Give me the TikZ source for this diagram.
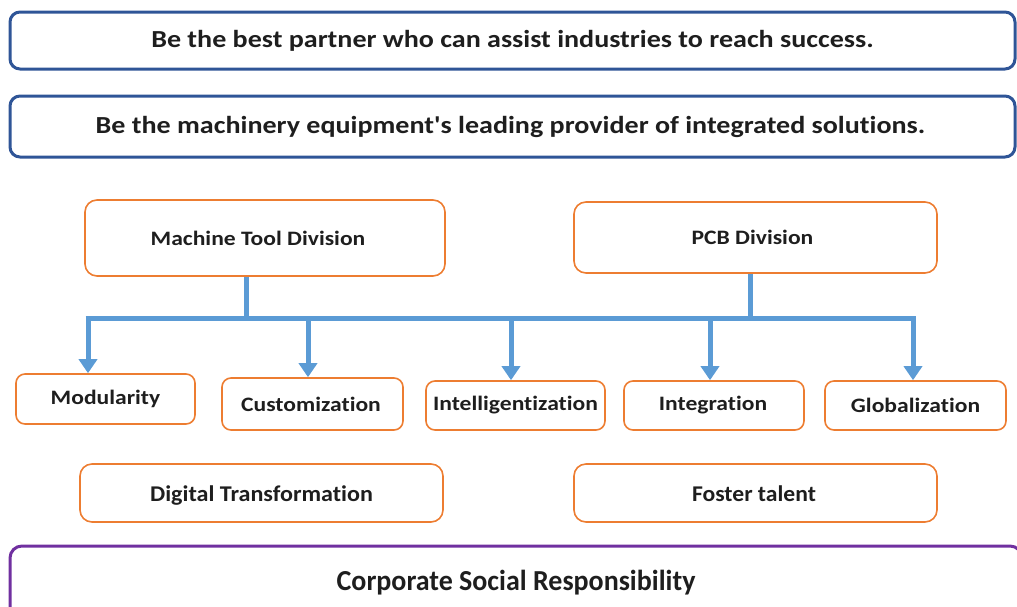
\documentclass[tikz,border=0pt]{standalone}
\usepackage{graphicx}
\usepackage{fontspec}
\setmainfont{Carlito}[Ligatures={NoCommon}]
\newfontfamily\labelfont{Carlito}[Ligatures={NoCommon}]
\usetikzlibrary{arrows.meta}
\definecolor{visionblue}{HTML}{2F5597}
\definecolor{unitorange}{HTML}{ED7D31}
\definecolor{csrpurple}{HTML}{7030A0}
\definecolor{linkblue}{HTML}{5B9BD5}
\definecolor{inkgray}{HTML}{1E1E1E}
% horizontally widened label text
\newcommand{\wlabel}[2]{\scalebox{#1}[1]{#2}}
\begin{document}
\begin{tikzpicture}[x=1pt,y=-1pt,
  every node/.style={text=inkgray, inner sep=0pt, align=center},
  banner/.style={draw=visionblue, line width=3pt, rounded corners=10pt,
    font=\labelfont\bfseries\fontsize{24.5}{28}\selectfont},
  division/.style={draw=unitorange, line width=1.6pt, rounded corners=12pt,
    font=\labelfont\bfseries\fontsize{20.5}{24}\selectfont},
  pillar/.style={draw=unitorange, line width=1.6pt, rounded corners=9pt,
    font=\labelfont\bfseries\fontsize{20.5}{24}\selectfont},
  goalbox/.style={draw=unitorange, line width=1.6pt, rounded corners=12pt,
    text height=16pt, text depth=0pt,
    font=\labelfont\bfseries\fontsize{22.5}{26}\selectfont},
  csrbox/.style={draw=csrpurple, line width=3pt, rounded corners=12pt,
    font=\labelfont\bfseries\fontsize{29}{33}\selectfont},
  link/.style={draw=linkblue, line width=5pt},
  linkarrow/.style={link, -{Triangle[width=18pt,length=14pt]}}
]
\useasboundingbox (0,0) rectangle (1017,606);

% vision and mission banners
\node[banner, minimum width=1005pt, minimum height=57pt] (vision) at (512.5,40.5)
  {\wlabel{1.145}{Be the best partner who can assist industries to reach success.}};
\node[banner, minimum width=1005pt, minimum height=61pt] (mission) at (512.5,126.5)
  {\hspace*{-4pt}\wlabel{1.145}{Be the machinery equipment\symbol{39}s leading provider of integrated solutions.}};

% business divisions
\node[division, minimum width=360pt, minimum height=76pt] (mtd) at (265,238)
  {\hspace*{-14pt}\wlabel{1.15}{Machine Tool Division}};
\node[division, minimum width=363pt, minimum height=71pt] (pcb) at (755.5,237.5)
  {\hspace*{-6pt}\wlabel{1.15}{PCB Division}};

% strategic directions
\node[pillar, minimum width=179pt, minimum height=50pt] (mod) at (105.5,399) {\wlabel{1.15}{Modularity}};
\node[pillar, minimum width=181pt, minimum height=52pt] (cust) at (312.5,404) {\hspace*{-3pt}\wlabel{1.15}{Customization}};
\node[pillar, minimum width=179pt, minimum height=49pt] (intel) at (515.5,405.5) {\wlabel{1.15}{Intelligentization}};
\node[pillar, minimum width=180pt, minimum height=49pt] (integ) at (714,405.5) {\hspace*{-2pt}\wlabel{1.15}{Integration}};
\node[pillar, minimum width=181pt, minimum height=49pt] (glob) at (915.5,405.5) {\wlabel{1.15}{Globalization}};

% supporting goals
\node[goalbox, minimum width=363pt, minimum height=58pt] (digital) at (261.5,493)
  {\wlabel{1.07}{Digital Transformation}};
\node[goalbox, minimum width=363pt, minimum height=58pt] (talent) at (755.5,493)
  {\hspace*{-3pt}\wlabel{1.05}{Foster talent}};

% corporate social responsibility base
\node[csrbox, minimum width=1012pt, minimum height=74pt] (csr) at (516,583)
  {\raisebox{4pt}{\wlabel{0.965}{Corporate Social Responsibility}}};

% connector bus
\coordinate (mtdout) at ([xshift=-19pt]mtd.south);
\coordinate (pcbout) at ([xshift=-5.5pt]pcb.south);
\coordinate (aMod) at ([xshift=-17.5pt]mod.north);
\coordinate (aCust) at ([xshift=-4.5pt]cust.north);
\coordinate (aIntel) at ([xshift=-4.5pt]intel.north);
\coordinate (aInteg) at ([xshift=-4pt]integ.north);
\coordinate (aGlob) at ([xshift=-2.5pt]glob.north);
\coordinate (bus) at (0,318);

\draw[link] (mtdout) -- (mtdout |- bus);
\draw[link] (pcbout) -- (pcbout |- bus);
\draw[link] ([xshift=-2.5pt]aMod |- bus) -- ([xshift=2.5pt]aGlob |- bus);
\draw[linkarrow] (aMod |- bus) -- (aMod);
\draw[linkarrow] (aCust |- bus) -- (aCust);
\draw[linkarrow] (aIntel |- bus) -- (aIntel);
\draw[linkarrow] (aInteg |- bus) -- (aInteg);
\draw[linkarrow] (aGlob |- bus) -- (aGlob);
\end{tikzpicture}
\end{document}
